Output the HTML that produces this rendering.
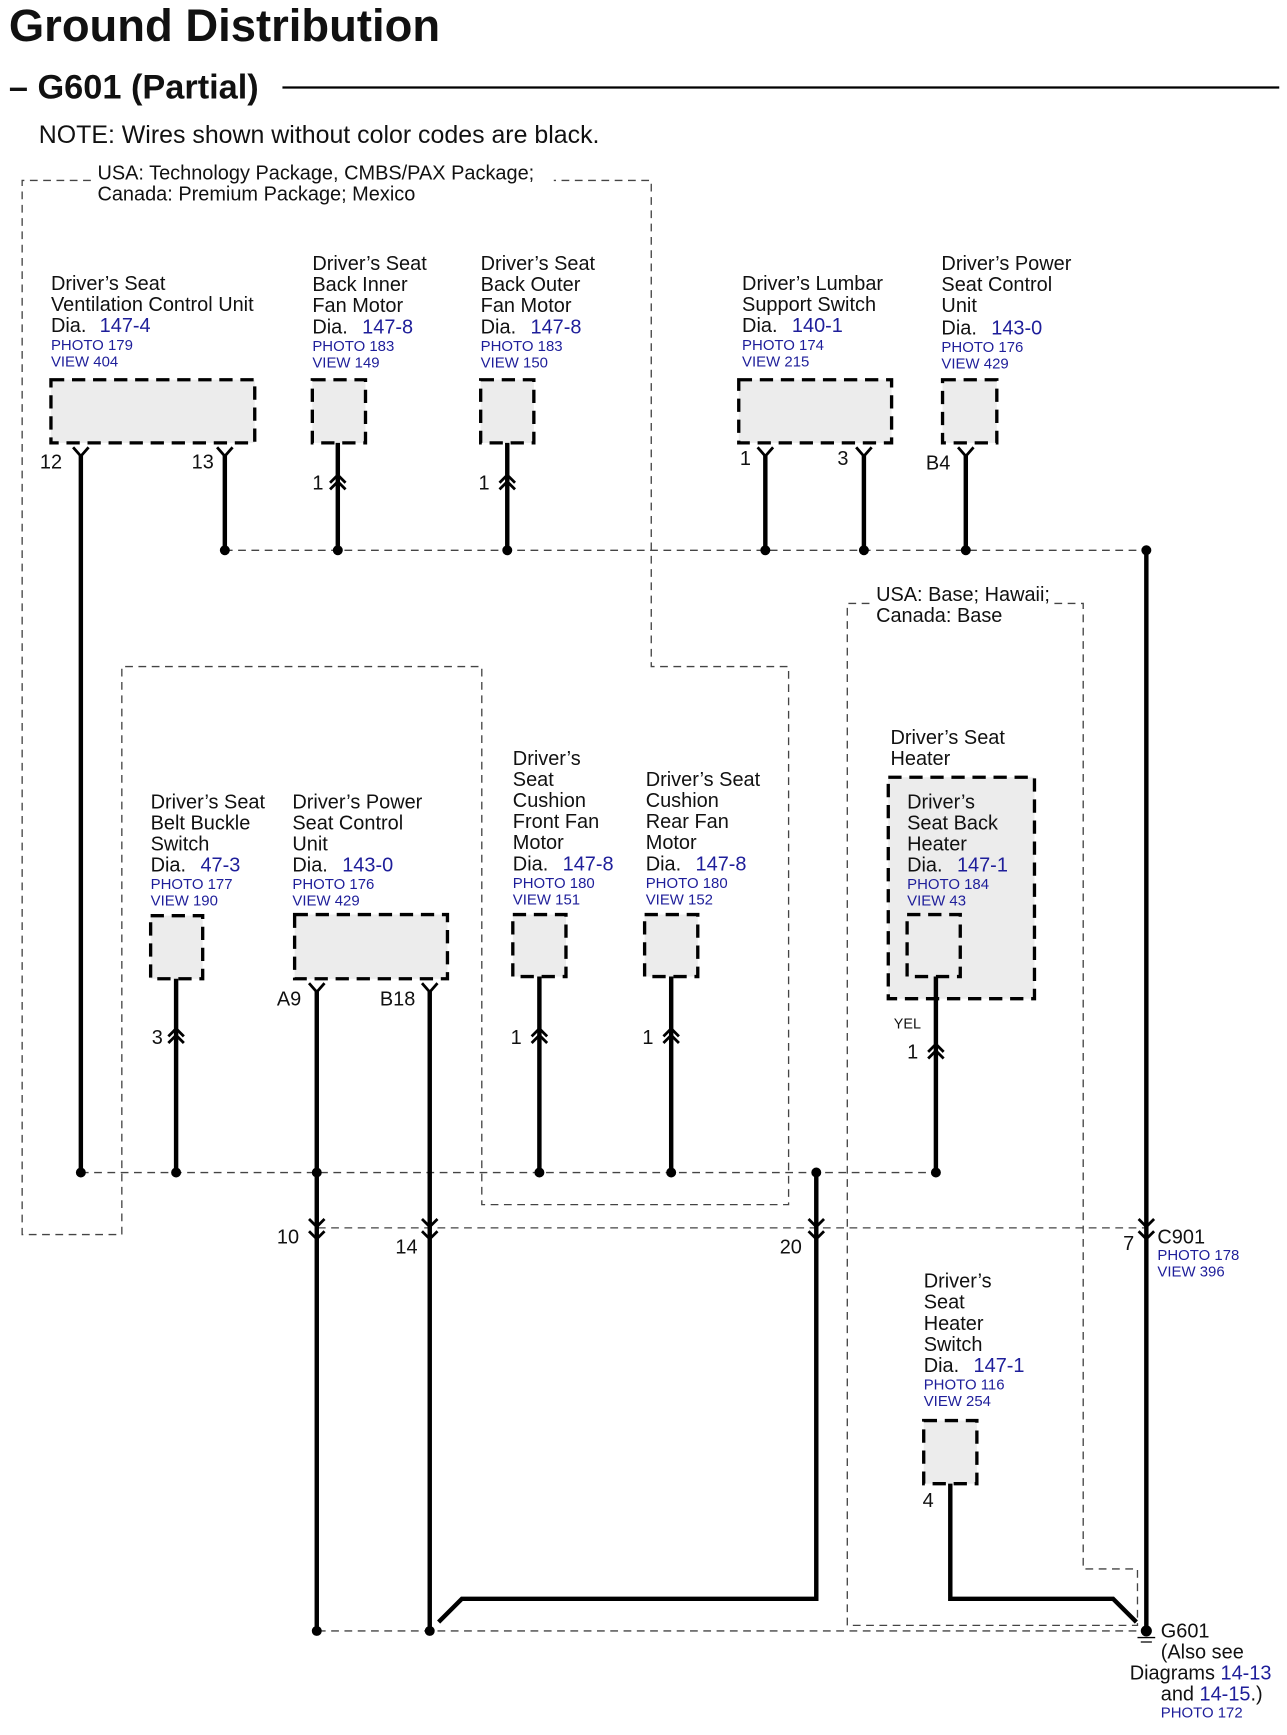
<!DOCTYPE html>
<html><head><meta charset="utf-8"><style>
html,body{margin:0;padding:0;background:#fff}
svg{display:block}
text{font-family:"Liberation Sans",Arial,sans-serif;fill:#111}
.s{font-size:18px}
.b{fill:#1e1e9a;font-size:13.5px}
.bl{fill:#1e1e9a}
.w{stroke:#000;stroke-width:4;fill:none}
.d{stroke:#444;stroke-width:1.2;fill:none;stroke-dasharray:7 5}
.bx{stroke:#000;stroke-width:3;fill:#ececec;stroke-dasharray:12 7}
.c{stroke:#000;stroke-width:2.5;fill:none}
</style></head><body>
<svg width="1287" height="1735" viewBox="0 0 1162 1567" preserveAspectRatio="none" xmlns="http://www.w3.org/2000/svg">
<text x="8" y="37" style="font-size:41px;font-weight:bold">Ground Distribution</text>
<text x="8" y="89" style="font-size:31px;font-weight:bold">– G601 (Partial)</text>
<line x1="255" y1="79" x2="1155" y2="79" stroke="#000" stroke-width="2"/>
<text x="35" y="129" style="font-size:22.5px">NOTE: Wires shown without color codes are black.</text>

<path class="d" d="M82,163 H20 V1115 H110 V602 H435 V1088 H712 V602 H588 V163 H500"/>
<text x="88" y="162" class="s">USA: Technology Package, CMBS/PAX Package;</text>
<text x="88" y="181" class="s">Canada: Premium Package; Mexico</text>
<path class="d" d="M785,545 H765 V1468 H1027 V1417 H978 V545 H952"/>
<text x="791" y="543" class="s">USA: Base; Hawaii;</text>
<text x="791" y="562" class="s">Canada: Base</text>

<line class="d" x1="203" y1="497" x2="1035" y2="497"/>
<line class="d" x1="73" y1="1059" x2="845" y2="1059"/>
<line class="d" x1="287" y1="1109" x2="1035" y2="1109"/>
<line class="d" x1="287" y1="1473" x2="1035" y2="1473"/>

<text class="s"><tspan x="46" y="262">Driver’s Seat</tspan><tspan x="46" y="281">Ventilation Control Unit</tspan><tspan x="46" y="300">Dia.</tspan><tspan class="bl" x="90" y="300">147-4</tspan></text>
<text class="b"><tspan x="46" y="316">PHOTO 179</tspan><tspan x="46" y="331">VIEW 404</tspan></text>
<rect class="bx" x="46" y="343" width="184" height="57"/>
<text class="s"><tspan x="282" y="244">Driver’s Seat</tspan><tspan x="282" y="263">Back Inner</tspan><tspan x="282" y="282">Fan Motor</tspan><tspan x="282" y="301">Dia.</tspan><tspan class="bl" x="327" y="301">147-8</tspan></text>
<text class="b"><tspan x="282" y="317">PHOTO 183</tspan><tspan x="282" y="332">VIEW 149</tspan></text>
<rect class="bx" x="282" y="343" width="48" height="57"/>
<text class="s"><tspan x="434" y="244">Driver’s Seat</tspan><tspan x="434" y="263">Back Outer</tspan><tspan x="434" y="282">Fan Motor</tspan><tspan x="434" y="301">Dia.</tspan><tspan class="bl" x="479" y="301">147-8</tspan></text>
<text class="b"><tspan x="434" y="317">PHOTO 183</tspan><tspan x="434" y="332">VIEW 150</tspan></text>
<rect class="bx" x="434" y="343" width="48" height="57"/>
<text class="s"><tspan x="670" y="262">Driver’s Lumbar</tspan><tspan x="670" y="281">Support Switch</tspan><tspan x="670" y="300">Dia.</tspan><tspan class="bl" x="715" y="300">140-1</tspan></text>
<text class="b"><tspan x="670" y="316">PHOTO 174</tspan><tspan x="670" y="331">VIEW 215</tspan></text>
<rect class="bx" x="667" y="343" width="138" height="57"/>
<text class="s"><tspan x="850" y="244">Driver’s Power</tspan><tspan x="850" y="263">Seat Control</tspan><tspan x="850" y="282">Unit</tspan><tspan x="850" y="302">Dia.</tspan><tspan class="bl" x="895" y="302">143-0</tspan></text>
<text class="b"><tspan x="850" y="318">PHOTO 176</tspan><tspan x="850" y="333">VIEW 429</tspan></text>
<rect class="bx" x="851" y="343" width="49" height="57"/>

<path class="w" d="M73,410 V1059 M203,410 V497 M305,400 V497 M458,400 V497 M691,410 V497 M780,410 V497 M872,410 V497 M1035,497 V1473"/>
<g class="c">
<path d="M66,404 L73,412 L80,404"/><path d="M196,404 L203,412 L210,404"/>
<path d="M684,404 L691,412 L698,404"/><path d="M773,404 L780,412 L787,404"/><path d="M865,404 L872,412 L879,404"/>
<path d="M279,888 L286,896 L293,888"/><path d="M381,888 L388,896 L395,888"/>
</g>
<g class="s"><text x="36" y="423">12</text><text x="173" y="423">13</text><text x="668" y="420">1</text><text x="756" y="420">3</text><text x="836" y="424">B4</text>
<text x="282" y="442">1</text><text x="432" y="442">1</text></g>
<g class="c">
<path d="M298,436 L305,429 L312,436 M298,442 L305,435 L312,442"/>
<path d="M451,436 L458,429 L465,436 M451,442 L458,435 L465,442"/>
<path d="M152,936 L159,929 L166,936 M152,942 L159,935 L166,942"/>
<path d="M480,936 L487,929 L494,936 M480,942 L487,935 L494,942"/>
<path d="M599,936 L606,929 L613,936 M599,942 L606,935 L613,942"/>
<path d="M838,950 L845,943 L852,950 M838,956 L845,949 L852,956"/>
</g>

<text class="s"><tspan x="136" y="730">Driver’s Seat</tspan><tspan x="136" y="749">Belt Buckle</tspan><tspan x="136" y="768">Switch</tspan><tspan x="136" y="787">Dia.</tspan><tspan class="bl" x="181" y="787">47-3</tspan></text>
<text class="b"><tspan x="136" y="803">PHOTO 177</tspan><tspan x="136" y="818">VIEW 190</tspan></text>
<rect class="bx" x="136" y="827" width="47" height="57"/>
<text class="s"><tspan x="264" y="730">Driver’s Power</tspan><tspan x="264" y="749">Seat Control</tspan><tspan x="264" y="768">Unit</tspan><tspan x="264" y="787">Dia.</tspan><tspan class="bl" x="309" y="787">143-0</tspan></text>
<text class="b"><tspan x="264" y="803">PHOTO 176</tspan><tspan x="264" y="818">VIEW 429</tspan></text>
<rect class="bx" x="266" y="826" width="138" height="58"/>
<text class="s"><tspan x="463" y="691">Driver’s</tspan><tspan x="463" y="710">Seat</tspan><tspan x="463" y="729">Cushion</tspan><tspan x="463" y="748">Front Fan</tspan><tspan x="463" y="767">Motor</tspan><tspan x="463" y="786">Dia.</tspan><tspan class="bl" x="508" y="786">147-8</tspan></text>
<text class="b"><tspan x="463" y="802">PHOTO 180</tspan><tspan x="463" y="817">VIEW 151</tspan></text>
<rect class="bx" x="463" y="826" width="48" height="56"/>
<text class="s"><tspan x="583" y="710">Driver’s Seat</tspan><tspan x="583" y="729">Cushion</tspan><tspan x="583" y="748">Rear Fan</tspan><tspan x="583" y="767">Motor</tspan><tspan x="583" y="786">Dia.</tspan><tspan class="bl" x="628" y="786">147-8</tspan></text>
<text class="b"><tspan x="583" y="802">PHOTO 180</tspan><tspan x="583" y="817">VIEW 152</tspan></text>
<rect class="bx" x="582" y="826" width="48" height="56"/>
<text class="s"><tspan x="804" y="672">Driver’s Seat</tspan><tspan x="804" y="691">Heater</tspan></text>
<rect class="bx" x="802" y="702" width="132" height="200"/>
<text class="s"><tspan x="819" y="730">Driver’s</tspan><tspan x="819" y="749">Seat Back</tspan><tspan x="819" y="768">Heater</tspan><tspan x="819" y="787">Dia.</tspan><tspan class="bl" x="864" y="787">147-1</tspan></text>
<text class="b"><tspan x="819" y="803">PHOTO 184</tspan><tspan x="819" y="818">VIEW 43</tspan></text>
<rect class="bx" x="819" y="826" width="48" height="56"/>
<text x="807" y="929" style="font-size:13px">YEL</text>
<text class="s"><tspan x="834" y="1163">Driver’s</tspan><tspan x="834" y="1182">Seat</tspan><tspan x="834" y="1201">Heater</tspan><tspan x="834" y="1220">Switch</tspan><tspan x="834" y="1239">Dia.</tspan><tspan class="bl" x="879" y="1239">147-1</tspan></text>
<text class="b"><tspan x="834" y="1255">PHOTO 116</tspan><tspan x="834" y="1270">VIEW 254</tspan></text>
<rect class="bx" x="834" y="1283" width="48" height="57"/>

<path class="w" d="M159,884 V1059 M286,894 V1473 M388,894 V1473 M487,882 V1059 M606,882 V1059 M845,882 V1059 M737,1059 V1444 H417 L396,1465 M858,1340 V1444 H1005 L1026,1465"/>
<g class="s"><text x="137" y="943">3</text><text x="250" y="908">A9</text><text x="343" y="908">B18</text><text x="461" y="943">1</text><text x="580" y="943">1</text><text x="819" y="956">1</text><text x="833" y="1361">4</text>
<text x="250" y="1123">10</text><text x="357" y="1132">14</text><text x="704" y="1132">20</text><text x="1014" y="1129">7</text></g>
<g class="c">
<path d="M279,1101 L286,1108 L293,1101 M279,1112 L286,1119 L293,1112"/>
<path d="M381,1101 L388,1108 L395,1101 M381,1112 L388,1119 L395,1112"/>
<path d="M730,1101 L737,1108 L744,1101 M730,1112 L737,1119 L744,1112"/>
<path d="M1028,1101 L1035,1108 L1042,1101 M1028,1112 L1035,1119 L1042,1112"/>
</g>
<text x="1045" y="1123" class="s">C901</text>
<text class="b"><tspan x="1045" y="1138">PHOTO 178</tspan><tspan x="1045" y="1153">VIEW 396</tspan></text>

<g fill="#000">
<circle cx="203" cy="497" r="4.5"/><circle cx="305" cy="497" r="4.5"/><circle cx="458" cy="497" r="4.5"/><circle cx="691" cy="497" r="4.5"/><circle cx="780" cy="497" r="4.5"/><circle cx="872" cy="497" r="4.5"/><circle cx="1035" cy="497" r="4.5"/>
<circle cx="73" cy="1059" r="4.5"/><circle cx="159" cy="1059" r="4.5"/><circle cx="286" cy="1059" r="4.5"/><circle cx="487" cy="1059" r="4.5"/><circle cx="606" cy="1059" r="4.5"/><circle cx="737" cy="1059" r="4.5"/><circle cx="845" cy="1059" r="4.5"/>
<circle cx="286" cy="1473" r="4.5"/><circle cx="388" cy="1473" r="4.5"/><circle cx="1035" cy="1473" r="5"/>
</g>
<path d="M1027,1479 H1043 M1030,1483 H1040" stroke="#000" stroke-width="1.2"/>
<text class="s"><tspan x="1048" y="1479">G601</tspan><tspan x="1048" y="1498">(Also see</tspan><tspan x="1020" y="1517">Diagrams </tspan><tspan class="bl">14-13</tspan><tspan x="1048" y="1536">and </tspan><tspan class="bl">14-15</tspan><tspan>.)</tspan></text>
<text x="1048" y="1551" class="b">PHOTO 172</text>
</svg>
</body></html>
